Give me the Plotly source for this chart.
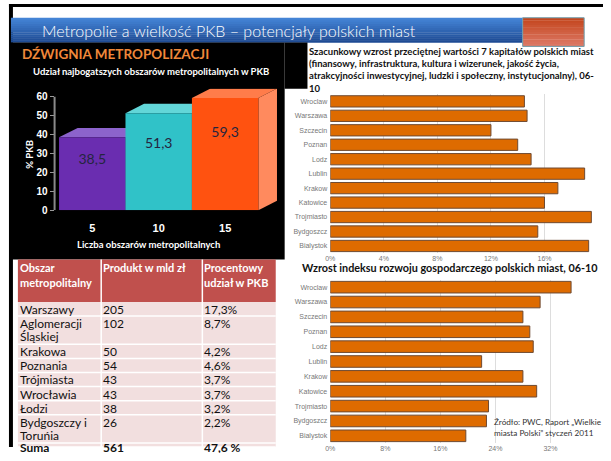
import plotly.graph_objects as go

# strona ma 8px marginesu przy pomiarze, więc figura jest o 8px mniejsza
W, H = 603, 453

# --- dane: wykres 3D (lewy górny) ---
metro_counts = ["5", "10", "15"]
metro_share = [38.5, 51.3, 59.3]
share_ticks = [0, 10, 20, 30, 40, 50, 60]

# --- dane: tabela ---
tbl_header = [["Obszar", "metropolitalny"], ["Produkt w mld zł"], ["Procentowy", "udział w PKB"]]
regions = ["Warszawy", "Aglomeracji\nŚląskiej", "Krakowa", "Poznania", "Trójmiasta",
           "Wrocławia", "Łodzi", "Bydgoszczy i\nToruńia"]
products = [205, 102, 50, 54, 43, 43, 38, 26]
shares = ["17,3%", "8,7%", "4,2%", "4,6%", "3,7%", "3,7%", "3,2%", "2,2%"]
total_row = ["Suma", "561", "47,6 %"]

# --- dane: wykresy słupkowe (prawe) ---
cities = ["Wroclaw", "Warszawa", "Szczecin", "Poznan", "Lodz", "Lublin", "Krakow",
          "Katowice", "Trojmiasto", "Bydgoszcz", "Bialystok"]
capital_growth = [14.5, 14.7, 12.0, 14.0, 15.0, 19.0, 17.0, 16.0, 19.5, 15.5, 19.3]
index_growth = [35.0, 30.5, 28.0, 29.0, 29.5, 22.0, 28.0, 30.0, 23.0, 22.7, 19.7]

title_top = ["Szacunkowy wzrost przeciętnej wartości 7 kapitałów polskich miast",
             "(finansowy, infrastruktura, kultura i wizerunek, jakość życia,",
             "atrakcyjności inwestycyjnej, ludzki i społeczny, instytucjonalny), 06-",
             "10"]
title_bottom = "Wzrost indeksu rozwoju gospodarczego polskich miast, 06-10"
source_note = ["Źródło: PWC, Raport „Wielkie", "miasta Polski\u201d styczeń 2011"]

SANS = "Lato, Liberation Sans"
BAR_ORANGE = "#de6b00"


def px(x):
    return min(x / W, 1)


def py(y):
    return max(1 - y / H, 0)


shapes = []
annotations = []


def rect(x0, y0, x1, y1, fill, line=None, lw=0):
    shapes.append(dict(type="rect", xref="paper", yref="paper",
                       x0=px(x0), x1=px(x1), y0=py(y1), y1=py(y0),
                       fillcolor=fill, line=dict(color=line or fill, width=lw),
                       layer="below"))


def hline(x0, x1, y, color, w):
    shapes.append(dict(type="line", xref="paper", yref="paper", x0=px(x0), x1=px(x1),
                       y0=py(y), y1=py(y), line=dict(color=color, width=w), layer="below"))


def vline(x, y0, y1, color, w):
    shapes.append(dict(type="line", xref="paper", yref="paper", x0=px(x), x1=px(x),
                       y0=py(y0), y1=py(y1), line=dict(color=color, width=w), layer="below"))


def text(x, y, s, size, color="#000", family=SANS, weight="normal", anchor="left", angle=0):
    annotations.append(dict(x=x / W, y=1 - y / H, xref="paper", yref="paper", text=s,
                            showarrow=False, xanchor=anchor, yanchor="middle",
                            textangle=angle, borderpad=0,
                            font=dict(size=size, color=color, family=family, weight=weight)))


def mix(c1, c2, t):
    a = [int(c1[i:i + 2], 16) for i in (1, 3, 5)]
    b = [int(c2[i:i + 2], 16) for i in (1, 3, 5)]
    return "#" + "".join(f"{round(a[k] + (b[k] - a[k]) * t):02x}" for k in range(3))


# ramka slajdu
rect(4, 4, W, 7, "#000000")
rect(4, 4, 8, H, "#000000")

# pasek tytułu (gradient)
n = 12
for k in range(n):
    y0 = 18 + k * 25 / n
    rect(6, y0, 522, y0 + 25 / n + 0.4, mix("#4484d6", "#1e4b94", k / (n - 1)))
for k in range(n):
    y0 = 18 + k * 29 / n
    rect(522, y0, 584, y0 + 29 / n + 0.4, mix("#c4461e", "#dc7864", k / (n - 1)))
shapes.append(dict(type="rect", xref="paper", yref="paper", x0=px(522), x1=px(584),
                   y0=py(47), y1=py(18), line=dict(color="#6f9fae", width=1), layer="below"))
text(36, 31, "Metropolie a wielkość PKB – potencjały polskich miast", 16,
     color="#ffffff", weight=300)

# czarny panel wykresu 3D
rect(5, 43, 282, 263, "#000000")
rect(282, 43, 305, 90, "#000000")
text(16, 55, "DŹWIGNIA METROPOLIZACJI", 13.5, color="#f0883a", weight="bold")
text(27, 72, "Udział najbogatszych obszarów metropolitalnych w PKB", 9.5,
     color="#ffffff", weight="bold")
text(25, 156, "% PKB", 9.5, color="#ffffff", weight="bold", anchor="center", angle=-90)
text(145, 248, "Liczba obszarów metropolitalnych", 9.5, color="#ffffff",
     weight="bold", anchor="center")

# tabela
TX = [13, 97, 199, 273]
rect(TX[0], 263, TX[3], 306, "#c0504d")
rect(TX[0], 306, TX[3], H, "#f2dfdf")
for xc in TX[1:3]:
    vline(xc, 263, H, "#ffffff", 1.5)
for c, lines in enumerate(tbl_header):
    for k, s in enumerate(lines):
        text(TX[c] + 1, 271 + 15 * k, s, 11, color="#ffffff", weight="bold")

LINE = 14.3
top = 306
rows = [[r, str(p), s] for r, p, s in zip(regions, products, shares)]
for row in rows + [total_row]:
    bold = row is total_row
    nlines = max(len(c.split("\n")) for c in row)
    for c, cell in enumerate(row):
        for k, s in enumerate(cell.split("\n")):
            text(TX[c] + 1, top + (5 if bold else 7.5) + 13.6 * k, s, 12, color="#111111",
                 weight="bold" if bold else "normal")
    top += LINE * nlines
    hline(TX[0], TX[3], top, "#ffffff", 1.5)

# tytuły wykresów prawych
for k, s in enumerate(title_top):
    text(306, 52 + 12.4 * k, s, 9.5, color="#111111", weight="bold")
text(298, 271, title_bottom, 10.8, color="#111111", weight="bold")
for k, s in enumerate(source_note):
    text(492, 428 + 11 * k, s, 8.2, color="#333333")

fig = go.Figure()

# wykres 3D z ręcznie składanych ścian
DX, DY = 0.28, 5.0
faces = [("#6a2db0", "#8c63cc", "#7a45bb"),
         ("#30c2c8", "#62d6d8", "#48cccf"),
         ("#ff5210", "#ff7c4a", "#ff8a5e")]
for i, v in enumerate(metro_share):
    l, r = i - 0.5, i + 0.5
    front, topc, side = faces[i]
    polys = [([r, r + DX, r + DX, r, r], [0, DY, v + DY, v, 0], side),
             ([l, r, r + DX, l + DX, l], [v, v, v + DY, v + DY, v], topc),
             ([l, r, r, l, l], [0, 0, v, v, 0], front)]
    for xs, ys, col in polys:
        fig.add_trace(go.Scatter(x=xs, y=ys, mode="lines", fill="toself", fillcolor=col,
                                 line=dict(width=0), hoverinfo="skip", showlegend=False,
                                 xaxis="x", yaxis="y"))
fig.add_trace(go.Scatter(
    x=list(range(len(metro_share))), y=[v * 0.68 for v in metro_share],
    mode="text", text=[f"{v:.1f}".replace(".", ",") for v in metro_share],
    textfont=dict(size=14, color="#25253f", family=SANS),
    hoverinfo="skip", showlegend=False, xaxis="x", yaxis="y"))
shapes.append(dict(type="line", xref="x domain", yref="y", x0=0, x1=0, y0=0, y1=60,
                   line=dict(color="#8a8a8a", width=2)))

# wykresy słupkowe
bar_style = dict(orientation="h", marker=dict(color=BAR_ORANGE, line=dict(color="#6e4a32", width=1)),
                 showlegend=False, hovertemplate="%{y}: %{x}%<extra></extra>")
fig.add_trace(go.Bar(x=capital_growth, y=cities, xaxis="x2", yaxis="y2", **bar_style))
fig.add_trace(go.Bar(x=index_growth, y=cities, xaxis="x3", yaxis="y3", **bar_style))

# dolna oś: 0% w 328 px, 8% co 55.5 px; prawa krawędź figury ucina skalę
x3_right = 40 * (W - 328) / (605.5 - 328)

tickf = dict(size=7, color="#777777", family="Liberation Sans")
fig.update_layout(
    width=W, height=H,
    margin=dict(l=0, r=0, t=0, b=0),
    paper_bgcolor="#ffffff", plot_bgcolor="rgba(0,0,0,0)",
    bargap=0.22,
    shapes=shapes, annotations=annotations,
    xaxis=dict(domain=[px(50), px(290)], range=[-0.567, 3.015], tickvals=[0, 1, 2],
               ticktext=metro_counts, showgrid=False, zeroline=False, showline=False,
               ticks="", ticklabelstandoff=10,
               tickfont=dict(size=11, color="#ffffff", family="Liberation Sans", weight="bold")),
    yaxis=dict(domain=[py(213), py(90)], range=[0, 64.17], tickvals=share_ticks,
               showgrid=False, zeroline=False, showline=False, ticks="outside", ticklen=4,
               tickcolor="#999999",
               tickfont=dict(size=10, color="#ffffff", family="Liberation Sans", weight="bold")),
    xaxis2=dict(domain=[px(328), px(598)], range=[0, 20], dtick=4, ticksuffix="%",
                anchor="y2", showgrid=True, gridcolor="#dddddd", zeroline=False,
                tickfont=tickf),
    yaxis2=dict(domain=[py(256.6), py(95.4)], anchor="x2", autorange="reversed",
                tickfont=tickf, ticklabelstandoff=2),
    xaxis3=dict(domain=[px(328), 1], range=[0, x3_right], dtick=8, ticksuffix="%",
                anchor="y3", showgrid=True, gridcolor="#dddddd", zeroline=False,
                tickfont=tickf),
    yaxis3=dict(domain=[py(449.2), py(283.5)], anchor="x3", autorange="reversed",
                tickfont=tickf, ticklabelstandoff=2),
)

fig.write_html(
    "out.html",
    config={"displayModeBar": False},
    post_script=("document.documentElement.style.margin='0';"
                 "document.body.style.margin='0';"
                 "document.documentElement.style.overflow='hidden';"),
)
